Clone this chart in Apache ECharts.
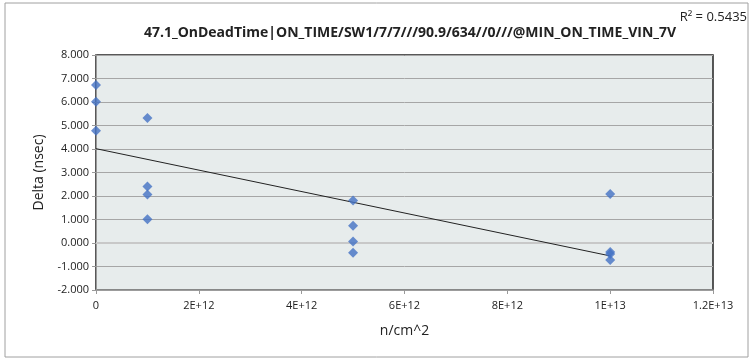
<!DOCTYPE html>
<html><head><meta charset="utf-8">
<script src="https://cdn.jsdelivr.net/npm/echarts@6/dist/echarts.min.js"></script>
<style>html,body{margin:0;padding:0;background:#fff}#c{width:750px;height:360px}</style>
</head><body><div id="c"></div>
<script>
const xValues = [0, 0, 0, 1e12, 1e12, 1e12, 1e12, 5e12, 5e12, 5e12, 5e12, 1e13, 1e13, 1e13, 1e13];
const yValues = [6.72, 6.01, 4.78, 5.32, 2.40, 2.06, 1.01, 1.81, 0.73, 0.06, -0.42, 2.09, -0.38, -0.47, -0.72];
const xTickLabels = ['0', '2E+12', '4E+12', '6E+12', '8E+12', '1E+13', '1.2E+13'];
const titleText = '47.1_OnDeadTime|ON_TIME/SW1/7/7///90.9/634//0///@MIN_ON_TIME_VIN_7V';
const r2Text = 'R² = 0.5435';

const pts = xValues.map((x, i) => [x, yValues[i]]);
// linear trendline (least squares) over data range
const n = xValues.length;
const mx = xValues.reduce((a, b) => a + b, 0) / n;
const my = yValues.reduce((a, b) => a + b, 0) / n;
let sxy = 0, sxx = 0;
for (let i = 0; i < n; i++) { sxy += (xValues[i] - mx) * (yValues[i] - my); sxx += (xValues[i] - mx) ** 2; }
const slope = sxy / sxx, icpt = my - slope * mx;
const xMin = Math.min(...xValues), xMax = Math.max(...xValues);
const trend = [[xMin, icpt + slope * xMin], [xMax, icpt + slope * xMax]];

const font = '"Open Sans", "Liberation Sans", sans-serif';
const chart = echarts.init(document.getElementById('c'), null, { renderer: 'canvas' });
chart.setOption({
  animation: false,
  backgroundColor: '#fff',
  graphic: [{
    type: 'rect', shape: { x: 5, y: 3, width: 743, height: 354 },
    style: { fill: 'none', stroke: '#A0A0A0', lineWidth: 1 }, z: -10
  }, {
    type: 'text', right: 3, top: 11,
    style: { text: r2Text, font: '13px ' + font, fill: '#222' }
  }],
  title: {
    text: titleText, left: 405, top: 21, textAlign: 'center',
    textStyle: { fontFamily: font, fontWeight: 'bold', fontSize: 14, color: '#222' }
  },
  grid: {
    left: 96, right: 37, top: 55, bottom: 70,
    show: true, backgroundColor: '#E7ECEC', borderColor: '#222', borderWidth: 1.5
  },
  xAxis: {
    type: 'value', min: 0, max: 1.2e13, interval: 2e12,
    name: 'n/cm^2', nameLocation: 'middle', nameGap: 34,
    nameTextStyle: { fontFamily: font, fontSize: 14, color: '#222' },
    axisLine: { onZero: false, lineStyle: { color: '#999', width: 1.5 } },
    axisTick: { show: true, length: 4, lineStyle: { color: '#999' } },
    splitLine: { show: false },
    axisLabel: {
      fontFamily: font, fontSize: 11, color: '#222', margin: 10,
      formatter: v => xTickLabels[Math.round(v / 2e12)]
    }
  },
  yAxis: {
    type: 'value', min: -2, max: 8, interval: 1,
    name: 'Delta (nsec)', nameLocation: 'middle', nameGap: 50,
    nameTextStyle: { fontFamily: font, fontSize: 14, color: '#222' },
    axisLine: { show: true, lineStyle: { color: '#999', width: 1 } },
    axisTick: { show: true, length: 4, lineStyle: { color: '#999' } },
    splitLine: { show: true, lineStyle: { color: '#A6A6A6', width: 1 } },
    axisLabel: { fontFamily: font, fontSize: 11, color: '#222', margin: 7, formatter: v => v.toFixed(3) }
  },
  series: [{
    type: 'line', data: trend, symbol: 'none',
    lineStyle: { color: '#222', width: 1 }, z: 3,
    markLine: {
      silent: true, symbol: 'none', label: { show: false },
      lineStyle: { color: '#C8C8C8', width: 2, type: 'solid' },
      data: [{ yAxis: 0 }], z: 1
    }
  }, {
    type: 'scatter', data: pts, symbol: 'diamond', symbolSize: 10,
    itemStyle: { color: '#4472C4' }, z: 4
  }]
});
</script></body></html>
